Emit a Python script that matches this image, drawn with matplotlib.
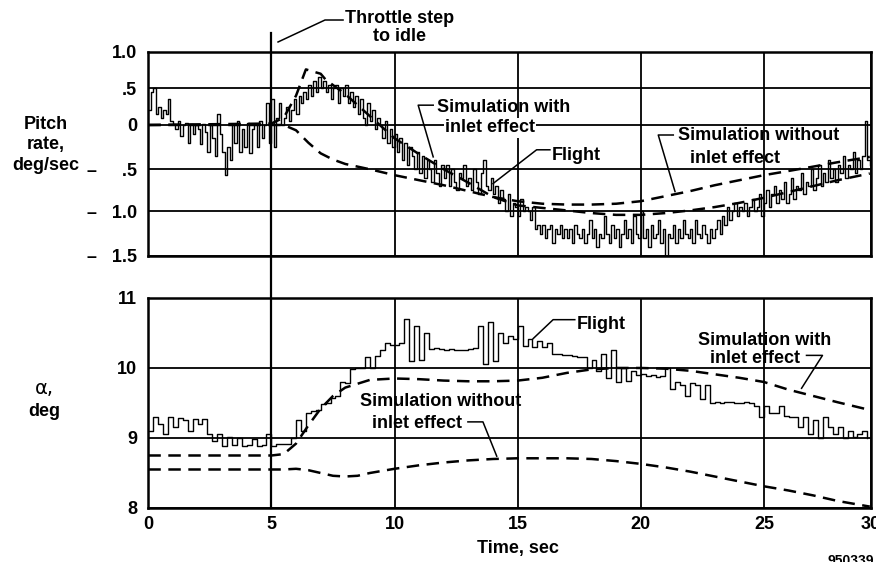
import numpy as np
import matplotlib
matplotlib.use("Agg")
import matplotlib.pyplot as plt
from matplotlib.lines import Line2D
from matplotlib import transforms

plt.rcParams['font.family'] = ['Liberation Sans', 'DejaVu Sans']
plt.rcParams['font.weight'] = 'bold'
plt.rcParams['font.size'] = 13

# ---- data ----
DT_Q = 0.1  # pitch-rate flight samples every 0.1 s
DT_A = 0.2  # alpha flight samples every 0.2 s

# pitch rate, deg/sec, flight
q_flight = [
    0.2, 0.45, 0.5, 0.15, 0.25, 0.1, 0.2, 0.15, 0.35, 0.05,
    0.02, -0.05, 0.05, -0.12, 0.0, 0.03, -0.2, 0.02, -0.1, 0.0,
    -0.05, -0.22, 0.02, -0.08, -0.3, 0.0, -0.15, -0.35, 0.15, -0.1,
    -0.3, -0.57, -0.25, -0.4, 0.02, -0.2, 0.05, -0.3, -0.05, -0.25,
    0.03, -0.32, -0.05, 0.02, -0.25, 0.05, -0.15, 0.0, 0.3, -0.2,
    0.35, -0.25, 0.1, 0.3, 0.0, 0.1, 0.25, 0.05, 0.2, 0.35,
    0.15, 0.4, 0.3, 0.45, 0.35, 0.55, 0.4, 0.6, 0.45, 0.65,
    0.5, 0.6, 0.45, 0.55, 0.35, 0.5, 0.55, 0.3, 0.5, 0.4,
    0.55, 0.3, 0.45, 0.25, 0.4, 0.15, 0.35, 0.1, 0.0, 0.3,
    0.05, 0.2, -0.05, 0.1, 0.0, -0.15, 0.05, -0.2, -0.05, -0.25,
    -0.1, -0.3, -0.15, -0.4, -0.2, -0.45, -0.25, -0.35, -0.5, -0.3,
    -0.55, -0.35, -0.6, -0.4, -0.5, -0.65, -0.4, -0.55, -0.7, -0.45,
    -0.6, -0.45, -0.7, -0.5, -0.65, -0.75, -0.55, -0.6, -0.45, -0.7,
    -0.6, -0.75, -0.5, -0.65, -0.8, -0.55, -0.4, -0.7, -0.75, -0.6,
    -0.8, -0.7, -0.9, -0.75, -0.85, -1.0, -0.8, -1.05, -0.9, -0.95,
    -1.05, -0.85, -1.0, -0.95, -1.0, -1.1, -0.95, -1.2, -1.15, -1.25,
    -1.15, -1.3, -1.2, -1.15, -1.35, -1.2, -1.25, -1.15, -1.3, -1.2,
    -1.3, -1.2, -1.35, -1.15, -1.25, -1.3, -1.2, -1.35, -1.25, -1.1,
    -1.3, -1.2, -1.4, -1.25, -1.3, -1.05, -1.25, -1.35, -1.15, -1.3,
    -1.2, -1.4, -1.25, -1.1, -1.3, -1.2, -1.35, -1.05, -1.25, -1.3,
    -1.0, -1.3, -1.2, -1.4, -1.15, -1.3, -1.25, -1.1, -1.35, -1.2,
    -1.55, -1.25, -1.3, -1.15, -1.35, -1.2, -1.3, -1.1, -1.25, -1.3,
    -1.2, -1.35, -1.1, -1.25, -1.3, -1.15, -1.25, -1.35, -1.2, -1.3,
    -1.2, -1.1, -1.25, -1.05, -1.15, -0.95, -1.1, -1.0, -0.9, -1.05,
    -0.95, -1.0, -0.9, -1.05, -0.95, -0.85, -1.0, -0.95, -0.8, -1.05,
    -0.9, -0.75, -0.95, -0.8, -0.7, -0.9, -0.75, -0.85, -0.65, -0.9,
    -0.8, -0.6, -0.85, -0.7, -0.75, -0.55, -0.8, -0.65, -0.7, -0.5,
    -0.75, -0.6, -0.45, -0.7, -0.55, -0.65, -0.4, -0.6, -0.5, -0.65,
    -0.45, -0.55, -0.35, -0.6, -0.45, -0.5, -0.3, -0.55, -0.4, -0.5,
    -0.35, 0.05, -0.4, -0.45,
]

# angle of attack, deg, flight
a_flight = [
    9.1, 9.3, 9.2, 9.05, 9.3, 9.15, 9.28, 9.25, 9.1, 9.27,
    9.2, 9.27, 9.05, 8.95, 9.05, 8.88, 9.02, 8.9, 9.0, 8.88,
    8.9, 8.98, 8.88, 8.9, 9.05, 8.88, 8.92, 8.92, 8.92, 9.0,
    9.25, 9.1, 9.35, 9.38, 9.4, 9.48, 9.5, 9.57, 9.6, 9.8,
    9.78, 9.98, 10.0, 10.0, 10.15, 10.0, 10.17, 10.25, 10.35, 10.33,
    10.33, 10.35, 10.7, 10.1, 10.6, 10.12, 10.5, 10.27, 10.28, 10.27,
    10.26, 10.27, 10.25, 10.26, 10.25, 10.27, 10.28, 10.6, 10.05, 10.65,
    10.1, 10.5, 10.35, 10.45, 10.42, 10.6, 10.32, 10.42, 10.3, 10.38,
    10.3, 10.35, 10.2, 10.2, 10.18, 10.19, 10.17, 10.16, 10.15, 10.0,
    10.12, 9.95, 10.2, 9.85, 10.25, 9.8, 10.0, 9.82, 9.95, 9.9,
    9.92, 9.88, 9.9, 9.87, 9.88, 10.0, 9.7, 9.8, 9.75, 9.6,
    9.78, 9.75, 9.55, 9.75, 9.5, 9.52, 9.5, 9.51, 9.52, 9.5,
    9.5, 9.52, 9.5, 9.45, 9.3, 9.45, 9.35, 9.36, 9.45, 9.32,
    9.3, 9.3, 9.15, 9.3, 9.05, 9.25, 9.0, 9.3, 9.15, 9.05,
    9.15, 9.0, 9.1, 9.02, 9.05, 9.1, 9.0,
]

# simulations, pitch rate
t_q_with = [0, 5, 5.5, 6, 6.4, 7.0, 7.2, 8, 9, 10, 11, 12, 13, 14, 15, 16, 17,
            18, 19, 20, 21, 22, 23, 24, 25, 26, 27, 28, 29.3]
q_with = [0, 0.02, 0.1, 0.4, 0.76, 0.7, 0.62, 0.42, 0.12, -0.15, -0.33, -0.5,
          -0.66, -0.83, -0.93, -0.96, -0.99, -1.02, -1.04, -1.04, -1.02, -0.99,
          -0.95, -0.9, -0.84, -0.77, -0.7, -0.63, -0.55]
t_q_without = [0, 5.5, 6, 6.5, 7, 7.5, 8, 9, 10, 11, 12, 13, 14, 15, 16, 17,
               18, 19, 20, 21, 22, 23, 24, 25, 26, 27, 28, 29.3]
q_without = [0, 0, -0.06, -0.2, -0.32, -0.39, -0.44, -0.5, -0.57, -0.63, -0.69,
             -0.76, -0.83, -0.88, -0.91, -0.92, -0.92, -0.91, -0.88, -0.82,
             -0.76, -0.69, -0.63, -0.57, -0.52, -0.47, -0.42, -0.36]

# simulations, alpha
t_a_with = [0, 5, 5.5, 6, 6.5, 7, 7.5, 8, 9, 10, 11, 12, 13, 14, 15, 16, 17,
            18, 19, 20, 21, 22, 23, 24, 25, 26, 27, 28, 29.3]
a_with = [8.75, 8.75, 8.77, 8.92, 9.18, 9.42, 9.6, 9.72, 9.83, 9.85, 9.84, 9.82,
          9.81, 9.81, 9.82, 9.86, 9.93, 9.98, 10.0, 10.0, 9.99, 9.96, 9.91,
          9.86, 9.8, 9.69, 9.6, 9.51, 9.4]
t_a_without = [0, 5.5, 6, 6.5, 7, 7.5, 8, 8.5, 9, 10, 11, 12, 13, 14, 15, 16, 17,
               18, 19, 20, 21, 22, 23, 24, 25, 26, 27, 28, 29.3]
a_without = [8.55, 8.55, 8.56, 8.54, 8.5, 8.46, 8.45, 8.46, 8.5, 8.56, 8.61,
             8.65, 8.68, 8.7, 8.71, 8.71, 8.71, 8.7, 8.67, 8.63, 8.58, 8.52,
             8.45, 8.38, 8.31, 8.25, 8.18, 8.1, 8.02]

x_ticks = [0, 5, 10, 15, 20, 25, 29.35]
x_labels = ['0', '5', '10', '15', '20', '25', '30']
q_ticks = [-1.5, -1.0, -0.5, 0.0, 0.5, 1.0]
q_labels = ['\u2013   1.5', '\u2013   1.0', '\u2013     .5', '0', '.5', '1.0']
a_ticks = [8, 9, 10, 11]
a_labels = ['8', '9', '10', '11']

# the original grid on the pitch-rate panel is not evenly spaced
q_grid_px = [0, 44.7, 86.7, 131, 167.7, 204]


def q_fwd(y):
    return np.interp(y, q_ticks, q_grid_px)


def q_inv(p):
    return np.interp(p, q_grid_px, q_ticks)


t_q = np.arange(len(q_flight)) * DT_Q
t_a = np.arange(len(a_flight)) * DT_A

fig = plt.figure(figsize=(8.76, 5.62), dpi=100)
ax1 = fig.add_axes([0.1693, 0.5445, 0.8250, 0.3630])
ax2 = fig.add_axes([0.1693, 0.0961, 0.8250, 0.3737])

dash = dict(color='k', lw=1.8, dashes=(5, 3))

ax1.set_yscale('function', functions=(q_fwd, q_inv))
ax1.plot(t_q, q_flight, color='k', lw=1.0, drawstyle='steps-post')
ax1.plot(t_q_with, q_with, **dash)
ax1.plot(t_q_without, q_without, **dash)
ax1.set_ylim(-1.5, 1.0)
ax1.set_yticks(q_ticks)
ax1.set_yticklabels(q_labels)
ax1.set_xticklabels([])

ax2.plot(t_a, a_flight, color='k', lw=1.0, drawstyle='steps-post')
ax2.plot(t_a_with, a_with, **dash)
ax2.plot(t_a_without, a_without, **dash)
ax2.set_ylim(8, 11)
ax2.set_yticks(a_ticks)
ax2.set_yticklabels(a_labels)

for ax in (ax1, ax2):
    ax.set_xlim(0, 29.35)
    ax.set_xticks(x_ticks)
    ax.grid(True, color='k', lw=1.3)
    ax.set_axisbelow(True)
    ax.tick_params(length=0, pad=8, labelsize=13)
    for s in ax.spines.values():
        s.set_linewidth(1.8)
ax2.set_xticklabels(x_labels)
ax2.tick_params(axis='x', pad=6)

# throttle step marker, runs through both panels
trans = transforms.blended_transform_factory(ax1.transData, fig.transFigure)
fig.add_artist(Line2D([5, 5], [0.0961, 0.9413], transform=trans, color='k', lw=1.6))
fig.add_artist(Line2D([0.3174, 0.371, 0.3916], [0.9253, 0.9644, 0.9644],
                      transform=fig.transFigure, color='k', lw=1.1))
fig.text(0.4566, 0.951, 'Throttle step\nto idle', ha='center', va='center',
         linespacing=1.1)

leader = dict(color='k', lw=1.1, clip_on=False)

# top panel callouts
ax1.text(11.72, 0.245, 'Simulation with', va='center')
ax1.text(12.05, -0.03, 'inlet effect', va='center',
         bbox=dict(facecolor='white', edgecolor='none', pad=1))
ax1.plot([11.57, 10.96, 11.57], [0.27, 0.27, -0.36], **leader)
ax1.text(16.39, -0.34, 'Flight', va='center')
ax1.plot([16.31, 15.77, 14.0], [-0.28, -0.28, -0.67], **leader)
ax1.text(21.5, -0.12, 'Simulation without', va='center')
ax1.text(22.0, -0.376, 'inlet effect', va='center')
ax1.plot([21.32, 20.71, 21.39], [-0.113, -0.113, -0.765], **leader)

# bottom panel callouts
ax2.text(17.4, 10.62, 'Flight', va='center')
ax2.plot([17.32, 16.44, 15.63], [10.69, 10.69, 10.42], **leader)
ax2.text(22.32, 10.39, 'Simulation with', va='center')
ax2.text(22.8, 10.14, 'inlet effect', va='center')
ax2.plot([26.73, 27.38, 26.53], [10.18, 10.18, 9.71], **leader)
ax2.text(8.6, 9.52, 'Simulation without', va='center')
ax2.text(9.07, 9.21, 'inlet effect', va='center')
ax2.plot([12.98, 13.59, 14.15], [9.23, 9.23, 8.74], **leader)

# axis titles
fig.text(0.0525, 1 - 145 / 562, 'Pitch\nrate,\ndeg/sec', ha='center', va='center',
         linespacing=1.25)
fig.text(0.051, 1 - 388 / 562, '\u03b1,', ha='center', va='center',
         fontweight='normal', fontsize=14, family='DejaVu Sans')
fig.text(0.051, 1 - 411 / 562, 'deg', ha='center', va='center')
fig.text(518 / 876, 1 - 548 / 562, 'Time, sec', ha='center', va='center')
fig.text(0.945, 1 - 554 / 562, '950339', ha='left', va='top', fontsize=10)

fig.savefig('out.png', dpi=100)
